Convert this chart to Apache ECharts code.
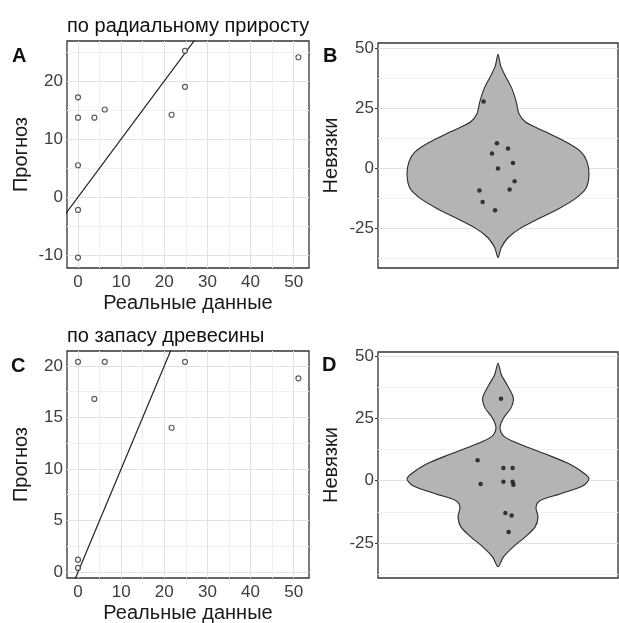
<!DOCTYPE html>
<html>
<head>
<meta charset="utf-8">
<script src="https://cdn.jsdelivr.net/npm/echarts@6/dist/echarts.min.js"></script>
<style>
  html, body { margin: 0; padding: 0; background: #fff; }
  #chart { width: 619px; height: 623px; }
</style>
</head>
<body>
<div id="chart"></div>
<script>
// --- данные ---
// A: по радиальному приросту
const realA = [0, 0, 0, 0, 0, 3.8, 6.2, 21.7, 24.8, 24.8, 51.1]
const predA = [17.2, 13.7, 5.5, -2.2, -10.4, 13.7, 15.1, 14.2, 19.0, 25.2, 24.1]
// C: по запасу древесины
const realC = [0, 0, 0, 3.8, 6.2, 21.7, 24.8, 51.1]
const predC = [20.4, 1.2, 0.4, 16.8, 20.4, 14.0, 20.4, 18.8]

// B: невязки (x - положение точки внутри скрипки)
const residB = [27.8, 10.5, 6.2, 8.3, 2.2, -0.1, -5.4, -8.8, -9.2, -14.0, -17.5]
const jitterB = [0.928, 0.995, 0.97, 1.05, 1.075, 1.0, 1.083, 1.058, 0.907, 0.923, 0.985]
// D: невязки
const residD = [32.9, 8.2, 5.1, 5.1, -1.3, -0.4, -0.4, -1.6, -12.9, -13.9, -20.6]
const jitterD = [1.015, 0.898, 1.027, 1.073, 0.913, 1.027, 1.073, 1.077, 1.037, 1.068, 1.053]

// контур скрипок: уровень и полуширина
const violinBY = [47.5, 42.7, 38.6, 33.1, 27.6, 22.7, 19.3, 15.2, 11.0, 6.9, 2.8, -2.7, -8.3, -12.4, -16.5, -20.7, -24.8, -28.9, -33.0, -37.2]
const violinBW = [0, 0.0135, 0.036, 0.07, 0.0915, 0.105, 0.1375, 0.2375, 0.34, 0.415, 0.445, 0.455, 0.44, 0.39, 0.31, 0.21, 0.115, 0.05, 0.0165, 0]
const violinDY = [47.1, 42.5, 38.5, 33.2, 29.2, 25.2, 21.2, 17.9, 14.6, 10.6, 6.6, 2.7, 0.7, -2.0, -5.3, -8.0, -10.6, -14.6, -18.6, -22.6, -26.6, -30.6, -34.5]
const violinDW = [0, 0.0165, 0.045, 0.0765, 0.065, 0.0285, 0.01, 0.0285, 0.11, 0.24, 0.36, 0.435, 0.455, 0.425, 0.31, 0.21, 0.19, 0.2, 0.185, 0.135, 0.075, 0.0265, 0]

// линия y = x
const identity = [-20, 80]

// деления осей
const xTicks = [0, 10, 20, 30, 40, 50]
const xMinor = [5, 15, 25, 35, 45]
const yTicksA = [-10, 0, 10, 20]
const yMinorA = [-5, 5, 15, 25]
const yTicksC = [0, 5, 10, 15, 20]
const yMinorC = [2.5, 7.5, 12.5, 17.5]
const yTicksRes = [-25, 0, 25, 50]
const yMinorRes = [-37.5, -12.5, 12.5, 37.5]

const FONT = 'Liberation Sans, Arial, sans-serif'
const TICK_COLOR = '#3d3d3d'

const chart = echarts.init(document.getElementById('chart'))

function gridBox(left, top, width, height) {
    return {
        left, top, width, height,
        containLabel: false,
        outerBoundsMode: 'none',
        show: true,
        backgroundColor: '#fff',
        borderColor: '#333',
        borderWidth: 1.3
    }
}

function valueAxis(gridIndex, min, max, ticks, opts) {
    return Object.assign({
        type: 'value',
        gridIndex,
        min, max,
        axisLine: { show: false },
        axisTick: { show: true, length: 3, customValues: ticks, lineStyle: { color: '#333' } },
        axisLabel: { customValues: ticks, color: TICK_COLOR, fontSize: 17, fontFamily: FONT, margin: 4 },
        splitLine: { show: false },
        nameTextStyle: { fontSize: 20, color: '#1a1a1a', fontFamily: FONT },
        nameMoveOverlap: false
    }, opts)
}

// сетка рисуется через markLine
function gridLines(major, minor, dim) {
    const mk = (v, c) => ({ [dim]: v, lineStyle: { color: c, width: 1, type: 'solid' } })
    return {
        silent: true,
        symbol: ['none', 'none'],
        label: { show: false },
        z: 1,
        animation: false,
        data: minor.map(v => mk(v, '#f0f0f0')).concat(major.map(v => mk(v, '#e1e1e1')))
    }
}

function gridSeries(idx, xMaj, xMin, yMaj, yMin) {
    const list = [{
        type: 'line', xAxisIndex: idx, yAxisIndex: idx, data: [],
        markLine: gridLines(yMaj, yMin, 'yAxis')
    }]
    if (xMaj) {
        list.push({
            type: 'line', xAxisIndex: idx, yAxisIndex: idx, data: [],
            markLine: gridLines(xMaj, xMin, 'xAxis')
        })
    }
    return list
}

function violin(idx, ys, ws) {
    return {
        type: 'custom',
        xAxisIndex: idx, yAxisIndex: idx,
        data: [[1, 0]],
        z: 3,
        renderItem: function (params, api) {
            const pts = []
            for (let i = 0; i < ys.length; i++) pts.push(api.coord([1 + ws[i], ys[i]]))
            for (let i = ys.length - 2; i > 0; i--) pts.push(api.coord([1 - ws[i], ys[i]]))
            return {
                type: 'polygon',
                shape: { points: pts, smooth: 0.3 },
                style: { fill: '#b4b4b4', stroke: '#2b2b2b', lineWidth: 1.1 }
            }
        }
    }
}

function hollowPoints(idx, xs, ys) {
    return {
        type: 'scatter', xAxisIndex: idx, yAxisIndex: idx,
        data: xs.map((x, i) => [x, ys[i]]),
        symbolSize: 5, z: 4,
        itemStyle: { color: '#fff', borderColor: '#333', borderWidth: 1.2 }
    }
}

function solidPoints(idx, xs, ys) {
    return {
        type: 'scatter', xAxisIndex: idx, yAxisIndex: idx,
        data: xs.map((x, i) => [x, ys[i]]),
        symbolSize: 4.5, z: 4,
        itemStyle: { color: '#111' }
    }
}

function identityLine(idx) {
    return {
        type: 'line', xAxisIndex: idx, yAxisIndex: idx,
        data: identity.map(v => [v, v]),
        symbol: 'none', clip: true, z: 3,
        lineStyle: { color: '#222', width: 1.2 }
    }
}

const text = (t, left, top, size, weight) => ({
    type: 'text', left, top,
    style: { text: t, font: `${weight || 'normal'} ${size}px ${FONT}`, fill: '#111' }
})

const xLabel = { customValues: xTicks, color: TICK_COLOR, fontSize: 17, fontFamily: FONT, margin: 6 }

const option = {
    animation: false,
    textStyle: { fontFamily: FONT },
    graphic: [
        text('по радиальному приросту', 67, 16, 20),
        text('по запасу древесины', 67, 326, 20),
        text('A', 12, 46, 20, 'bold'),
        text('B', 323, 46, 20, 'bold'),
        text('C', 11, 356, 20, 'bold'),
        text('D', 322, 355, 20, 'bold')
    ],
    grid: [
        gridBox(67, 41, 242, 227),
        gridBox(378, 43, 240, 225),
        gridBox(67, 351, 242, 227),
        gridBox(378, 352, 240, 226)
    ],
    xAxis: [
        valueAxis(0, -2.55, 53.55, xTicks, {
            name: 'Реальные данные', nameLocation: 'middle', nameGap: 25, axisLabel: xLabel
        }),
        valueAxis(1, 0.4, 1.6, [], { show: false }),
        valueAxis(2, -2.55, 53.55, xTicks, {
            name: 'Реальные данные', nameLocation: 'middle', nameGap: 25, axisLabel: xLabel
        }),
        valueAxis(3, 0.4, 1.6, [], { show: false })
    ],
    yAxis: [
        valueAxis(0, -12.2, 26.9, yTicksA, { name: 'Прогноз', nameLocation: 'middle', nameGap: 36 }),
        valueAxis(1, -41.5, 52.2, yTicksRes, { name: 'Невязки', nameLocation: 'middle', nameGap: 37 }),
        valueAxis(2, -0.58, 21.45, yTicksC, { name: 'Прогноз', nameLocation: 'middle', nameGap: 36 }),
        valueAxis(3, -39, 51.6, yTicksRes, { name: 'Невязки', nameLocation: 'middle', nameGap: 37 })
    ],
    series: [
        ...gridSeries(0, xTicks, xMinor, yTicksA, yMinorA),
        ...gridSeries(1, null, null, yTicksRes, yMinorRes),
        ...gridSeries(2, xTicks, xMinor, yTicksC, yMinorC),
        ...gridSeries(3, null, null, yTicksRes, yMinorRes),
        identityLine(0),
        hollowPoints(0, realA, predA),
        violin(1, violinBY, violinBW),
        solidPoints(1, jitterB, residB),
        identityLine(2),
        hollowPoints(2, realC, predC),
        violin(3, violinDY, violinDW),
        solidPoints(3, jitterD, residD)
    ]
}

chart.setOption(option)
</script>
</body>
</html>
